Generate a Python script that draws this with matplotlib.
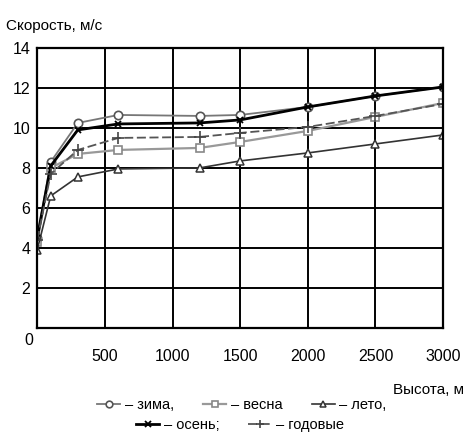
import numpy as np
import matplotlib.pyplot as plt

plt.rcParams["font.family"] = ["Liberation Sans", "DejaVu Sans"]

# heights, m
height = [0, 100, 300, 600, 1200, 1500, 2000, 2500, 3000]

# wind speed, m/s
zima = [4.5, 8.3, 10.25, 10.65, 10.6, 10.65, 11.05, 11.6, 12.05]
vesna = [4.3, 8.0, 8.7, 8.9, 9.0, 9.3, 9.85, 10.55, 11.25]
leto = [3.9, 6.6, 7.55, 7.95, 8.0, 8.35, 8.75, 9.2, 9.65]
osen = [4.5, 8.1, 9.9, 10.2, 10.25, 10.4, 11.05, 11.6, 12.05]
godovye = [4.4, 7.7, 8.9, 9.5, 9.55, 9.75, 10.05, 10.6, 11.2]

x_ticks = [500, 1000, 1500, 2000, 2500, 3000]
y_ticks = [2, 4, 6, 8, 10, 12, 14]

fig = plt.figure(figsize=(4.65, 4.36), dpi=100)
ax = fig.add_axes([0.08, 0.248, 0.873, 0.642])

l1, = ax.plot(height, zima, color="#777777", lw=1.3, marker="o", ms=6,
              mfc="white", mec="#555555", mew=1.2, label="– зима,")
l2, = ax.plot(height, vesna, color="#999999", lw=1.6, marker="s", ms=6,
              mfc="white", mec="#888888", mew=1.2, label="– весна")
l3, = ax.plot(height, leto, color="#333333", lw=1.2, marker="^", ms=6,
              mfc="white", mec="#333333", mew=1.1, label="– лето,")
l4, = ax.plot(height, osen, color="black", lw=2.0, marker="x", ms=5,
              mec="black", mew=1.3, label="– осень;")
l5, = ax.plot(height, godovye, color="#555555", lw=1.3, ls=(0, (5, 2)),
              marker="+", ms=8, mec="#444444", mew=1.2, label="– годовые")

ax.set_xlim(0, 3000)
ax.set_ylim(0, 14)
ax.set_xticks(x_ticks)
ax.set_yticks(y_ticks)
ax.grid(True, color="black", lw=1.4)
ax.set_axisbelow(True)
for s in ax.spines.values():
    s.set_linewidth(1.6)
ax.tick_params(length=0, labelsize=11.5)
ax.tick_params(axis="x", pad=15)
ax.tick_params(axis="y", pad=5)

fig.text(0.071, 0.22, "0", fontsize=11.5, ha="right", va="center")
fig.text(0.013, 0.94, "Скорость, м/с", fontsize=11, ha="left", va="center")
fig.text(0.997, 0.106, "Высота, м", fontsize=11, ha="right", va="center")

fig.legend(handles=[l1, l2, l3], loc="center", bbox_to_anchor=(0.52, 0.07),
           ncol=3, frameon=False, fontsize=10.5, handlelength=1.6,
           handletextpad=0.3, columnspacing=2.0, markerscale=0.8,
           borderpad=0, borderaxespad=0)
fig.legend(handles=[l4, l5], loc="center", bbox_to_anchor=(0.516, 0.025),
           ncol=2, frameon=False, fontsize=10.5, handlelength=1.6,
           handletextpad=0.3, columnspacing=2.0, markerscale=0.8,
           borderpad=0, borderaxespad=0)

fig.savefig("out.png", dpi=100)
